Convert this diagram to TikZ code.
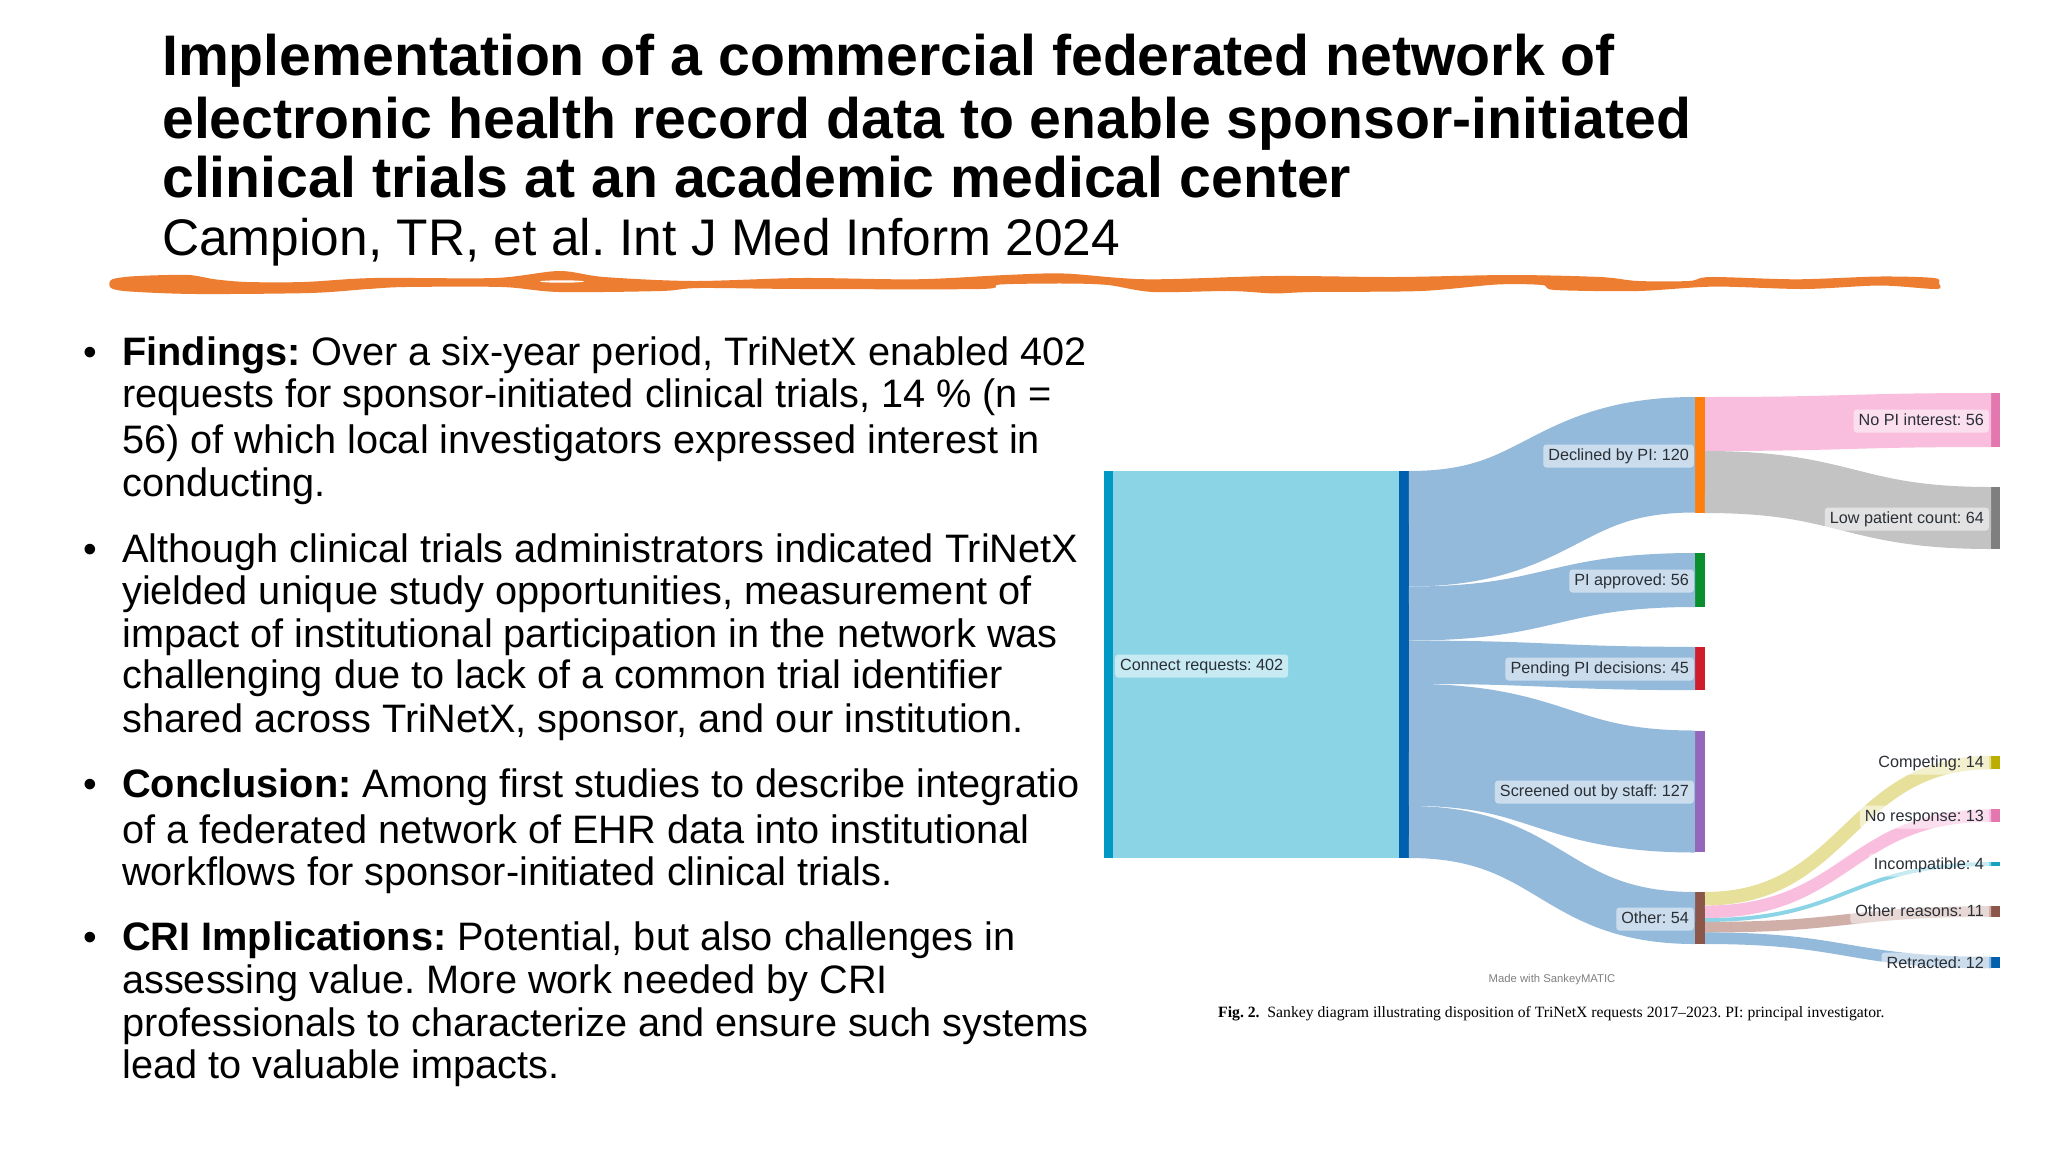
\documentclass[tikz,border=0pt]{standalone}
\usepackage{fontspec}
\setmainfont{Liberation Sans}
\newfontfamily\capfont{Liberation Serif}
\usetikzlibrary{calc}
\definecolor{scrib}{HTML}{ED7D31}
\definecolor{fblue}{HTML}{94BADB}
\definecolor{fcyan}{HTML}{8AD4E6}
\definecolor{fpink}{HTML}{F9BEDD}
\definecolor{fgray}{HTML}{C3C3C3}
\definecolor{fyel}{HTML}{E6E09A}
\definecolor{fbrown}{HTML}{CFAFA8}
\definecolor{bcyan}{HTML}{0099C6}
\definecolor{bblue}{HTML}{0060AD}
\definecolor{borange}{HTML}{FF7F0E}
\definecolor{bgreen}{HTML}{0A8F2E}
\definecolor{bred}{HTML}{D01C2B}
\definecolor{bpurple}{HTML}{9467BD}
\definecolor{bbrown}{HTML}{8C564B}
\definecolor{bpink}{HTML}{E377AF}
\definecolor{bgray}{HTML}{7F7F7F}
\definecolor{byel}{HTML}{BCAE00}
\definecolor{bteal}{HTML}{17A2C2}
\definecolor{labtxt}{HTML}{2A2F36}
\newcommand{\sflow}[7]{\draw[flowline,draw=#6,line width=#5pt] ([yshift=-#2pt]#1.north east) .. controls +(#7,0) and +(-#7,0) .. ([yshift=-#4pt]#3.north west);}
\tikzset{
  x=1pt,y=-1pt,
  titleline/.style={anchor=base west,inner sep=0pt,font=\fontsize{57.2}{58}\selectfont\bfseries,text=black},
  subline/.style={anchor=base west,inner sep=0pt,font=\fontsize{51.45}{52}\selectfont,text=black},
  bodyline/.style={anchor=base west,inner sep=0pt,font=\fontsize{39.7}{40}\selectfont,text=black},
  bulletmark/.style={anchor=base,inner sep=0pt,font=\fontsize{39}{39}\selectfont,text=black},
  barnode/.style={rectangle,anchor=north west,inner sep=0pt,outer sep=0pt,minimum width=#1,draw=none},
  barnode/.default=10pt,
  flowline/.style={line cap=butt},
  slabel/.style={rectangle,rounded corners=3pt,fill=white,fill opacity=0.52,text opacity=1,text=labtxt,
    font=\fontsize{16.2}{18}\selectfont,inner xsep=5pt,inner ysep=0pt,minimum height=23pt,text height=12pt,text depth=3.5pt},
}
\begin{document}
\frenchspacing
\begin{tikzpicture}
\useasboundingbox (0,0) rectangle (2048,1152);
\fill[white] (0,0) rectangle (2048,1152);

% title
\node[titleline] (t1) at (162,75) {Implementation of a commercial federated network of};
\node[titleline] (t2) at (162,138) {electronic health record data to enable sponsor-initiated};
\node[titleline] (t3) at (162,197) {clinical trials at an academic medical center};
\node[subline] (t4) at (162,255) {Campion, TR, et al. Int J Med Inform 2024};

% hand-drawn underline
\fill[scrib] plot[smooth cycle,tension=0.5] coordinates {
 (111,280) (125,277) (150,275.5) (189,275) (215,279.3) (247,282) (304,282) (374,278) (495,278) (559,271) (604,277)
 (693,281) (802,278) (916,279.3) (1006,275) (1064,273.5) (1147,279.3) (1274,276) (1395,277) (1510,275)
 (1600,277) (1638,281) (1689,281) (1711,277) (1797,279.3) (1880,276.5) (1934,278) (1939,283.5) (1936,289)
 (1880,285.5) (1804,289) (1714,286.6) (1638,291) (1555,290) (1542,285) (1497,284.5) (1421,291) (1312,292)
 (1274,293.4) (1230,291) (1153,292) (1108,285) (1064,283.5) (1000,284.5) (980,289) (802,289) (699,288)
 (661,291) (559,292) (502,287) (406,287) (368,289) (310,293) (196,294) (130,291.5) (111,288)};
\fill[white] (562,281.5) ellipse (22 and 1.2);

% bullets
\node[bulletmark] (b1) at (90,365.7) {•};
\node[bulletmark] (b2) at (90,562.7) {•};
\node[bulletmark] (b3) at (90,797.7) {•};
\node[bulletmark] (b4) at (90,950.7) {•};

% body text
\node[bodyline] (l1) at (122,365.7) {\textbf{Findings:} Over a six-year period, TriNetX enabled 402};
\node[bodyline] (l2) at (122,407.7) {requests for sponsor-initiated clinical trials, 14 \% (n =};
\node[bodyline] (l3) at (122,453.7) {56) of which local investigators expressed interest in};
\node[bodyline] (l4) at (122,496.7) {conducting.};
\node[bodyline] (l5) at (122,562.7) {Although clinical trials administrators indicated TriNetX};
\node[bodyline] (l6) at (122,604.7) {yielded unique study opportunities, measurement of};
\node[bodyline] (l7) at (122,647.7) {impact of institutional participation in the network was};
\node[bodyline] (l8) at (122,688.7) {challenging due to lack of a common trial identifier};
\node[bodyline] (l9) at (122,732.7) {shared across TriNetX, sponsor, and our institution.};
\node[bodyline] (l10) at (122,797.7) {\textbf{Conclusion:} Among first studies to describe integratio};
\node[bodyline] (l11) at (122,843.7) {of a federated network of EHR data into institutional};
\node[bodyline] (l12) at (122,885.7) {workflows for sponsor-initiated clinical trials.};
\node[bodyline] (l13) at (122,950.7) {\textbf{CRI Implications:} Potential, but also challenges in};
\node[bodyline] (l14) at (122,993.7) {assessing value. More work needed by CRI};
\node[bodyline] (l15) at (122,1036.7) {professionals to characterize and ensure such systems};
\node[bodyline] (l16) at (122,1078.7) {lead to valuable impacts.};

% sankey nodes
\node[barnode=9pt,fill=bcyan,minimum height=387pt] (req) at (1104,471) {};
\node[barnode,fill=bblue,minimum height=387pt] (conn) at (1399,471) {};
\node[barnode,fill=borange,minimum height=116pt] (dec) at (1695,397) {};
\node[barnode,fill=bgreen,minimum height=54pt] (app) at (1695,553) {};
\node[barnode,fill=bred,minimum height=43pt] (pend) at (1695,647) {};
\node[barnode,fill=bpurple,minimum height=121pt] (scr) at (1695,731) {};
\node[barnode,fill=bbrown,minimum height=52pt] (oth) at (1695,892) {};
\node[barnode=9pt,fill=bpink,minimum height=54pt] (nopi) at (1991,393) {};
\node[barnode=9pt,fill=bgray,minimum height=62pt] (low) at (1991,487) {};
\node[barnode=9pt,fill=byel,minimum height=13pt] (comp) at (1991,756) {};
\node[barnode=9pt,fill=bpink,minimum height=13pt] (nore) at (1991,809) {};
\node[barnode=9pt,fill=bteal,minimum height=4pt] (inc) at (1991,862) {};
\node[barnode=9pt,fill=bbrown,minimum height=11pt] (othr) at (1991,906) {};
\node[barnode=9pt,fill=bblue,minimum height=11pt] (retr) at (1991,957) {};

% sankey flows
\sflow{req}{193.5}{conn}{193.5}{387}{fcyan}{140}
\sflow{conn}{57.75}{dec}{57.75}{115.5}{fblue}{143}
\sflow{conn}{142.5}{app}{27}{54}{fblue}{143}
\sflow{conn}{191.2}{pend}{21.5}{43.3}{fblue}{143}
\sflow{conn}{273.8}{scr}{60.5}{122}{fblue}{143}
\sflow{conn}{361}{oth}{26}{52}{fblue}{143}
\sflow{dec}{27}{nopi}{27}{54}{fpink}{143}
\sflow{dec}{85}{low}{31}{62}{fgray}{143}
\sflow{oth}{6.7}{comp}{6.5}{13.5}{fyel}{143}
\sflow{oth}{19.8}{nore}{6.5}{12.5}{fpink}{143}
\sflow{oth}{28}{inc}{2}{3.9}{fcyan}{143}
\sflow{oth}{35.2}{othr}{5.5}{10.6}{fbrown}{143}
\sflow{oth}{46.2}{retr}{5.5}{11.6}{fblue}{143}

% sankey labels
\node[slabel,anchor=west] (lreq) at (1115,666) {Connect requests: 402};
\node[slabel,anchor=east] (ldec) at (1694,456) {Declined by PI: 120};
\node[slabel,anchor=east] (lapp) at (1694,581) {PI approved: 56};
\node[slabel,anchor=east] (lpen) at (1694,669) {Pending PI decisions: 45};
\node[slabel,anchor=east] (lscr) at (1694,792) {Screened out by staff: 127};
\node[slabel,anchor=east] (loth) at (1694,919) {Other: 54};
\node[slabel,anchor=east] (lnop) at (1989,421) {No PI interest: 56};
\node[slabel,anchor=east] (llow) at (1989,519) {Low patient count: 64};
\node[slabel,anchor=east] (lcom) at (1989,763) {Competing: 14};
\node[slabel,anchor=east] (lnor) at (1989,817) {No response: 13};
\node[slabel,anchor=east] (linc) at (1989,865) {Incompatible: 4};
\node[slabel,anchor=east] (lotr) at (1989,912) {Other reasons: 11};
\node[slabel,anchor=east] (lret) at (1989,964) {Retracted: 12};

\node[inner sep=0pt,text=black!50,font=\fontsize{11.3}{14}\selectfont] (made) at (1552,980) {Made with SankeyMATIC};
\node[anchor=base west,inner sep=0pt,text=black,font=\fontsize{15.7}{16}\selectfont\capfont] (cap) at (1218,1017) {\textbf{Fig. 2.}\ \ Sankey diagram illustrating disposition of TriNetX requests 2017–2023. PI: principal investigator.};
\end{tikzpicture}
\end{document}
